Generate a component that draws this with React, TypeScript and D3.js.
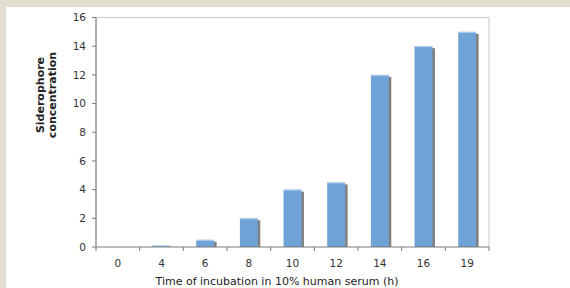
import * as d3 from "d3";

const categories = ["0", "4", "6", "8", "10", "12", "14", "16", "19"];
const values = [0, 0.1, 0.5, 2, 4, 4.5, 12, 14, 15];
const yTicks = [0, 2, 4, 6, 8, 10, 12, 14, 16];

const W = 570;
const H = 288;
const left = 96;
const right = 489;
const top = 17.5;
const bottom = 247;

export default function App() {
  const x = d3.scaleBand().domain(categories).range([left, right]).padding(0);
  const y = d3.scaleLinear().domain([0, 16]).range([bottom, top]);
  const bw = x.bandwidth() * 0.41;
  const font = "'DejaVu Sans', Verdana, sans-serif";

  return (
    <svg
      width={W}
      height={H}
      style={{ position: "absolute", left: 0, top: 0, display: "block" }}
      fontFamily={font}
    >
      <rect width={W} height={H} fill="#e2dfd0" />
      <rect x={6} y={7} width={W - 6} height={H - 7} fill="#ffffff" />

      {/* plot frame: light top/right */}
      <path
        d={`M${left},${top}H${right}V${bottom}`}
        fill="none"
        stroke="#c8c8c8"
        strokeWidth={1}
      />

      {/* bars with shadow */}
      {categories.map((c, i) => {
        const v = values[i];
        if (v <= 0) return null;
        const bx = (x(c) as number) + (x.bandwidth() - bw) / 2;
        const by = y(v);
        const h = bottom - by;
        return (
          <g key={c}>
            <rect x={bx + 2.5} y={by + 2} width={bw} height={Math.max(0, h - 2)} fill="#808080" />
            <rect x={bx} y={by} width={bw} height={h} fill="#6fa2d6" />
            <line x1={bx} x2={bx + bw} y1={by + 0.5} y2={by + 0.5} stroke="#b4d0ee" strokeWidth={1} />
          </g>
        );
      })}

      {/* y axis */}
      <line x1={left} x2={left} y1={top} y2={bottom} stroke="#7a7a7a" strokeWidth={1.2} />
      {yTicks.map((t) => (
        <g key={t}>
          <line x1={left - 4} x2={left} y1={y(t)} y2={y(t)} stroke="#7a7a7a" />
          <text
            x={left - 10}
            y={y(t)}
            dy="0.36em"
            textAnchor="end"
            fontSize={10.5}
            fill="#333"
          >
            {t}
          </text>
        </g>
      ))}

      {/* x axis */}
      <line x1={left} x2={right} y1={bottom} y2={bottom} stroke="#7a7a7a" strokeWidth={1.2} />
      {[...categories.map((c) => x(c) as number), right].map((px, i) => (
        <line key={i} x1={px} x2={px} y1={bottom} y2={bottom + 4} stroke="#7a7a7a" />
      ))}
      {categories.map((c) => (
        <text
          key={c}
          x={(x(c) as number) + x.bandwidth() / 2}
          y={266.5}
          textAnchor="middle"
          fontSize={10.5}
          fill="#333"
        >
          {c}
        </text>
      ))}

      <text x={277} y={284.5} textAnchor="middle" fontSize={11} fill="#222">
        Time of incubation in 10% human serum (h)
      </text>

      <g transform="translate(0,95) rotate(-90)">
        <text x={0} y={44} textAnchor="middle" fontSize={11} fontWeight="bold" fill="#222">
          Siderophore
        </text>
        <text x={0} y={56} textAnchor="middle" fontSize={11} fontWeight="bold" fill="#222">
          concentration
        </text>
      </g>
    </svg>
  );
}
